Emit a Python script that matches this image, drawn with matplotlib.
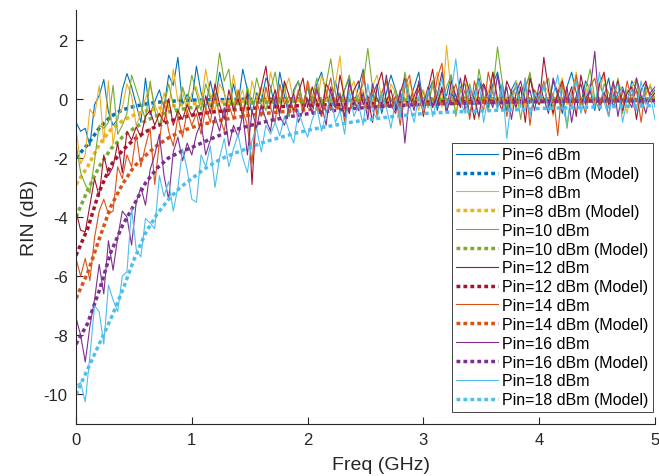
import numpy as np
import matplotlib
matplotlib.use('Agg')
import matplotlib.pyplot as plt

plt.rcParams['font.family'] = ['Liberation Sans', 'DejaVu Sans']
plt.rcParams['axes.unicode_minus'] = False

# measured data, 0 .. 5 GHz in 0.04 GHz steps
freq = np.arange(126) * 0.04
# model curves, 0 .. 5 GHz in 0.1 GHz steps
freq_model = np.arange(51) * 0.1

rin_6 = [-0.8, -1.1, -1.0, -1.6, -0.2, 0.1, 0.65, -0.45, -0.9, -0.7, 0.3, 0.85, 0.4, -0.2, -0.8, 0.7, -0.55, -0.1, 0.3, -0.3, 0.8, 0.45, 1.4, -0.2, 0.15, -0.1,
         1.1, 0.2, -0.3, 0.6, -0.1, 0.9, 0.2, -0.4, 0.5, -0.2, 1.0, 0.3, -0.5, 0.2, -0.1, 0.7, 0.4, -0.3, 0.9, 0.1, -0.6, 0.3, 0.6, -0.2, 0.4,
         -0.3, 0.5, 0.9, 0.2, -0.4, 0.6, -0.1, 0.3, 0.7, -0.2, 0.4, 1.0, -0.3, 0.1, 0.5, -0.5, 0.2, 0.8, 0.3, -0.2, 0.6, -0.1, 0.4, 0.9, -0.3,
         0.2, 0.6, -0.4, 0.3, 0.1, 0.8, -0.2, 0.4, 0.5, -0.6, 0.2, 0.7, 0.0, -0.3, 0.5, 0.9, 0.1, -0.4, 0.3, 0.6, -0.2, 0.4, 0.8, -0.1, 0.2,
         0.5, -0.3, 0.6, 0.1, -0.5, 0.4, 0.9, 0.2, -0.2, 0.6, 0.3, -0.4, 0.5, 0.1, 0.7, -0.3, 0.2, 0.4, -0.1, 0.6, 0.3, -0.2, 0.5, 0.1, 0.3]
rin_8 = [-1.0, -2.2, -1.9, -0.35, -0.6, 0.45, -1.5, 0.6, -1.55, -0.6, -0.3, 0.5, 0.1, -0.9, -0.5, 0.0, 0.45, -0.2, -0.6, 0.2, -0.4, 1.0, -0.1, 0.3, -0.5, 0.2,
         0.4, -0.2, 1.0, 0.1, -0.4, 0.5, 0.2, -0.3, 0.8, -0.1, 0.3, -0.6, 0.6, 0.0, 0.4, -0.2, 0.9, 0.2, -0.4, 0.3, 0.7, -0.1, 0.2, -0.5, 0.6,
         0.1, -0.3, 0.8, 0.3, -0.2, 0.5, 1.45, -0.4, 0.2, 0.6, -0.1, 0.3, -0.5, 0.4, 0.8, 0.0, -0.3, 0.5, 0.2, -0.6, -0.2, 0.6, 0.1, -0.4, 0.3,
         -0.2, 0.4, 0.9, -0.3, 1.8, 0.2, -0.5, 0.3, 0.7, -0.1, 0.1, -0.7, 0.5, 0.2, 0.9, -0.2, 0.4, 0.0, -0.4, 0.6, 0.3, -0.3, 0.8, 0.1, -0.2,
         0.5, 0.2, -0.6, 0.3, 0.7, -0.2, 0.1, 0.9, -0.4, 0.2, 0.5, -0.1, 0.3, 0.8, -0.3, 0.0, 0.6, 0.2, -0.5, 0.4, 0.7, -0.2, 0.1, 0.5, -0.1]
rin_10 = [-1.5, -2.5, -2.9, -3.2, -2.1, -0.9, -1.0, -0.8, 0.45, -1.2, -0.9, -0.5, 0.8, 0.3, -0.2, -0.7, 0.6, -0.4, -0.9, -0.3, 0.5, -0.2, -0.6, 0.4, -0.1, 0.8,
          0.2, -0.4, 0.5, 0.0, 0.3, 1.55, 0.6, 1.0, -0.3, 0.2, -0.5, 0.4, -0.2, 0.7, 0.1, -0.4, 0.3, 0.9, -0.1, 0.5, -0.6, 0.2, 0.6, -0.2, 0.4,
          0.0, 0.7, -0.3, 0.5, 1.35, 0.2, -0.4, 0.3, 0.8, -0.2, 0.1, 0.5, 1.7, 0.4, -0.5, 0.2, 0.6, -0.1, 0.3, -0.4, 0.9, 0.1, -0.2, 0.5, 0.2,
          -0.3, 0.6, 0.2, -0.1, 0.4, 0.8, -0.6, 0.3, 0.0, 0.5, -0.2, 1.0, 0.1, -0.4, 0.3, 1.75, 0.6, -0.3, 0.2, 0.4, -0.7, 0.3, 0.9, 0.0, -0.2,
          0.4, 0.7, -0.3, 0.1, 0.5, -1.0, 0.2, 0.6, -0.2, 0.3, 1.0, 0.0, -0.4, 0.5, 0.2, -0.1, 0.7, -0.5, 0.3, 0.1, 0.6, -0.3, 0.2, 0.4, 0.0]
rin_12 = [-3.8, -4.45, -4.5, -3.6, -2.7, -3.3, -1.9, -2.6, -2.3, -1.5, -2.5, -1.1, -1.4, -0.95, -1.3, -0.6, -0.4, -0.9, -0.5, -0.8, 0.0, -0.9, -0.4, -0.7, -0.2, -0.6,
          -0.3, -0.8, 0.1, -0.5, 0.5, -0.2, -0.7, 0.3, -0.4, 0.0, -0.6, 0.2, -2.9, -0.3, 0.4, 1.1, -0.2, 0.3, -0.5, 0.6, 0.1, -0.4, 0.2, 0.7, -0.3,
          0.4, -0.1, -0.6, 0.5, 0.2, -0.3, 0.8, 0.0, -0.5, 0.3, 0.6, -0.2, 0.1, -0.8, 0.4, 0.9, -0.1, 0.3, -0.4, 0.2, 0.7, -0.3, 0.1, 0.5, -0.6,
          0.3, 1.0, -0.2, 0.4, -0.5, 0.6, 0.1, -0.3, 0.8, 0.2, -0.7, 0.3, 0.5, -0.1, 0.9, 0.0, -0.4, 0.6, 0.2, -0.3, 0.4, -0.8, 0.7, 0.1, -0.2,
          1.4, 0.3, -0.5, 0.2, 0.6, -0.1, 0.4, -0.6, 0.8, 0.0, 0.3, -0.3, 0.5, 0.9, -0.2, 0.1, 0.6, -0.4, 0.2, 0.4, -0.7, 0.3, 0.6, 0.0, 0.2]
rin_14 = [-5.4, -6.0, -5.4, -6.15, -4.7, -3.8, -3.4, -3.9, -3.8, -2.3, -2.7, -1.9, -2.3, -1.2, -2.3, -1.6, -1.0, -2.9, -1.5, -0.1, -1.1, -1.6, -0.6, -1.3, -0.4, -0.9,
          -0.5, -1.2, -0.3, -0.8, 0.2, -0.6, -1.1, -0.2, -0.7, 0.3, -0.4, -0.9, -2.2, -0.1, -0.6, 0.4, -0.3, -0.8, 0.5, -0.2, 0.1, -0.5, 0.3, -0.4, 0.6,
          -0.2, 0.4, -0.6, 0.1, 0.7, -0.3, 0.2, -0.8, 0.5, 0.0, -0.4, 0.9, -0.1, 0.3, -0.6, 0.2, 0.6, -0.3, 0.1, -0.9, 0.4, 0.8, -0.2, 0.3, -0.5,
          0.2, -0.3, 0.7, 1.2, -0.4, 0.1, 0.5, -0.2, 0.3, -0.7, 0.6, 0.0, -0.4, 0.9, 0.2, -0.3, 0.5, -0.6, 0.1, 0.4, -0.2, 0.7, -0.9, 0.3, 0.0,
          0.6, -0.4, 0.2, -1.25, 0.5, 0.1, -0.3, 0.8, 0.0, -0.5, 0.4, 0.7, -0.2, 0.2, -0.6, 0.5, 0.1, -0.3, 0.6, -0.1, 0.3, -0.8, 0.4, 0.1, -0.2]
rin_16 = [-7.4, -8.0, -8.9, -7.7, -6.8, -5.6, -6.6, -4.8, -5.8, -4.7, -3.8, -4.0, -4.95, -3.5, -3.0, -3.6, -2.4, -1.9, -1.2, -2.6, -3.4, -1.8, -1.3, -2.1, -1.5, -1.9,
          -1.2, -0.8, -1.9, -1.4, -0.6, -1.1, -0.3, -1.6, -0.9, -1.3, -0.5, -1.9, -0.4, -1.0, -0.2, -0.7, -1.1, 0.1, -0.6, -0.9, -0.3, 0.2, -0.8, -0.4, 0.0,
          -0.5, 0.3, -0.2, -0.9, 0.4, -0.3, 0.1, -0.6, 0.6, -0.1, -0.4, 0.2, -0.7, 0.5, 0.0, -0.3, 0.8, -0.2, -0.5, 0.3, -1.5, 0.1, -0.4, 0.6, -0.2,
          0.4, -0.3, 0.1, 0.9, -0.5, 0.2, -0.1, 0.7, -0.4, 0.3, 0.0, -0.6, 0.5, 0.1, -0.3, 0.8, -0.2, 0.4, -0.7, 0.2, 0.6, -0.1, 0.3, -0.4, 0.5,
          0.0, -0.5, 0.7, 0.2, -0.3, 0.4, -0.8, 0.1, 0.5, -0.2, 0.3, 1.6, -0.4, 0.2, -0.1, 0.6, -0.6, 0.3, 0.0, -0.3, 0.7, 0.1, -0.5, 0.2, 0.4]
rin_18 = [-9.7, -9.6, -10.25, -8.7, -7.0, -7.2, -8.3, -6.3, -6.8, -7.2, -6.0, -5.85, -3.7, -5.1, -5.35, -4.05, -4.2, -4.4, -2.6, -3.3, -2.8, -3.8, -3.0, -1.7, -2.4, -3.4,
          -3.5, -1.9, -2.3, -1.6, -3.0, -2.0, -1.35, -2.3, -1.7, -1.2, -2.0, -2.5, -1.4, -1.0, -1.8, -0.9, -1.2, -0.8, -1.25, -0.6, -1.1, -1.5, -0.4, -0.9, -1.3,
          -0.7, -0.3, -1.1, -0.5, 0.1, -0.8, -0.4, -1.2, 0.3, -0.6, -0.2, -0.9, 0.5, -0.4, -0.7, 0.2, -0.3, -1.0, 0.0, -0.5, 0.6, -0.2, -0.8, 0.1, -0.4,
          0.3, -0.6, 0.0, 0.7, -0.3, 0.2, 1.35, -0.1, -0.5, 0.4, -0.2, 0.6, -0.8, 0.1, 0.3, -0.4, 0.5, -1.35, 0.0, 0.4, -0.3, 0.7, -0.6, 0.2, -0.1,
          0.5, -0.4, 0.1, 0.8, -0.2, -0.9, 0.3, 0.6, -0.5, 0.1, 0.4, -0.3, 0.9, -0.1, -0.6, 0.2, 0.5, -0.8, 0.0, 0.3, -0.4, 0.6, -0.2, 0.1, -0.7]

model_6 = [-2.0, -1.55, -1.0, -0.6, -0.38, -0.26, -0.18, -0.12, -0.09, -0.07, -0.05,
           -0.04, -0.03, -0.03, -0.02, -0.02, -0.02, -0.02, -0.01, -0.01, -0.01,
           -0.01, -0.01, -0.01, -0.01, -0.01, -0.01, -0.01, -0.01, -0.01, -0.01,
           0.0, 0.0, 0.0, 0.0, 0.0, 0.0, 0.0, 0.0, 0.0, 0.0,
           0.0, 0.0, 0.0, 0.0, 0.0, 0.0, 0.0, 0.0, 0.0, 0.0]
model_8 = [-2.9, -2.3, -1.55, -1.05, -0.75, -0.55, -0.42, -0.33, -0.26, -0.21, -0.17,
           -0.14, -0.12, -0.1, -0.09, -0.08, -0.07, -0.06, -0.05, -0.05, -0.04,
           -0.04, -0.04, -0.03, -0.03, -0.03, -0.03, -0.03, -0.02, -0.02, -0.02,
           -0.02, -0.02, -0.02, -0.02, -0.02, -0.02, -0.02, -0.02, -0.02, -0.02,
           -0.01, -0.01, -0.01, -0.01, -0.01, -0.01, -0.01, -0.01, -0.01, -0.01]
model_10 = [-4.0, -3.1, -2.3, -1.7, -1.3, -1.0, -0.75, -0.57, -0.45, -0.36, -0.3,
            -0.25, -0.21, -0.18, -0.16, -0.14, -0.12, -0.11, -0.1, -0.09, -0.08,
            -0.07, -0.07, -0.06, -0.06, -0.06, -0.05, -0.05, -0.05, -0.04, -0.04,
            -0.04, -0.04, -0.03, -0.03, -0.03, -0.03, -0.03, -0.03, -0.02, -0.02,
            -0.02, -0.02, -0.02, -0.02, -0.02, -0.02, -0.02, -0.02, -0.02, -0.02]
model_12 = [-5.3, -4.4, -3.15, -2.25, -1.75, -1.38, -1.12, -0.92, -0.77, -0.65, -0.56,
            -0.49, -0.44, -0.4, -0.36, -0.33, -0.3, -0.28, -0.26, -0.24, -0.22,
            -0.21, -0.2, -0.19, -0.18, -0.17, -0.16, -0.15, -0.14, -0.13, -0.12,
            -0.11, -0.11, -0.1, -0.1, -0.09, -0.09, -0.08, -0.08, -0.07, -0.07,
            -0.07, -0.06, -0.06, -0.06, -0.05, -0.05, -0.05, -0.05, -0.04, -0.04]
model_14 = [-6.75, -5.9, -4.75, -3.65, -2.9, -2.3, -1.92, -1.58, -1.32, -1.12, -0.97,
            -0.86, -0.77, -0.69, -0.62, -0.56, -0.51, -0.47, -0.43, -0.4, -0.37,
            -0.34, -0.32, -0.3, -0.28, -0.26, -0.24, -0.22, -0.21, -0.2, -0.18,
            -0.17, -0.16, -0.15, -0.14, -0.13, -0.12, -0.12, -0.11, -0.1, -0.1,
            -0.09, -0.09, -0.08, -0.08, -0.08, -0.07, -0.07, -0.07, -0.06, -0.06]
model_16 = [-8.3, -7.6, -6.5, -5.2, -4.3, -3.6, -2.85, -2.35, -2.0, -1.8, -1.65,
            -1.47, -1.3, -1.15, -1.02, -0.91, -0.81, -0.72, -0.64, -0.57, -0.51,
            -0.46, -0.41, -0.37, -0.33, -0.3, -0.27, -0.25, -0.23, -0.21, -0.19,
            -0.18, -0.17, -0.16, -0.15, -0.14, -0.13, -0.12, -0.11, -0.11, -0.1,
            -0.1, -0.09, -0.09, -0.08, -0.08, -0.08, -0.07, -0.07, -0.07, -0.06]
model_18 = [-10.0, -9.15, -8.3, -7.45, -6.5, -5.45, -4.55, -3.9, -3.4, -3.0, -2.7,
            -2.4, -2.15, -1.95, -1.8, -1.65, -1.5, -1.38, -1.27, -1.16, -1.07,
            -0.99, -0.92, -0.85, -0.78, -0.72, -0.67, -0.62, -0.58, -0.54, -0.5,
            -0.48, -0.46, -0.44, -0.43, -0.41, -0.4, -0.38, -0.37, -0.35, -0.33,
            -0.32, -0.31, -0.3, -0.29, -0.28, -0.27, -0.26, -0.25, -0.24, -0.23]

pins = [6, 8, 10, 12, 14, 16, 18]
measured = [rin_6, rin_8, rin_10, rin_12, rin_14, rin_16, rin_18]
models = [model_6, model_8, model_10, model_12, model_14, model_16, model_18]
colors = ['#0072BD', '#EDB120', '#77AC30', '#A2142F', '#D95319', '#7E2F8E', '#4DBEEE']

fig = plt.figure(figsize=(6.59, 4.77), dpi=100)
ax = fig.add_axes([76 / 659, 52 / 477, 579 / 659, 414 / 477])

for p, y, m, c in zip(pins, measured, models, colors):
    ax.plot(freq, y, color=c, lw=0.8, label='Pin=%d dBm' % p)
    ax.plot(freq_model, m, color=c, lw=2.5, linestyle=(0, (1.1, 0.9)),
            label='Pin=%d dBm (Model)' % p)

ax.set_xlim(0, 5)
ax.set_ylim(-11, 3)
ax.set_xticks([0, 1, 2, 3, 4, 5])
ax.set_yticks([-10, -8, -6, -4, -2, 0, 2])
ax.tick_params(direction='in', length=5, width=0.8, labelsize=12, colors='#262626', pad=6)
for s in ['top', 'right']:
    ax.spines[s].set_visible(False)
for s in ['left', 'bottom']:
    ax.spines[s].set_color('#262626')
    ax.spines[s].set_linewidth(0.8)

ax.set_xlabel('Freq (GHz)', fontsize=14, color='#262626')
ax.xaxis.set_label_coords(0.527, -0.078)
ax.set_ylabel('RIN (dB)', fontsize=14, color='#262626')

leg = ax.legend(loc='lower right', bbox_to_anchor=(653 / 659, 64 / 477),
                bbox_transform=fig.transFigure, fontsize=11.5, handlelength=2.6,
                handletextpad=0.25, labelspacing=0.24, borderaxespad=0,
                borderpad=0.3, fancybox=False, framealpha=1, edgecolor='#262626')
leg.get_frame().set_linewidth(0.6)

fig.savefig('out.png', dpi=100)
